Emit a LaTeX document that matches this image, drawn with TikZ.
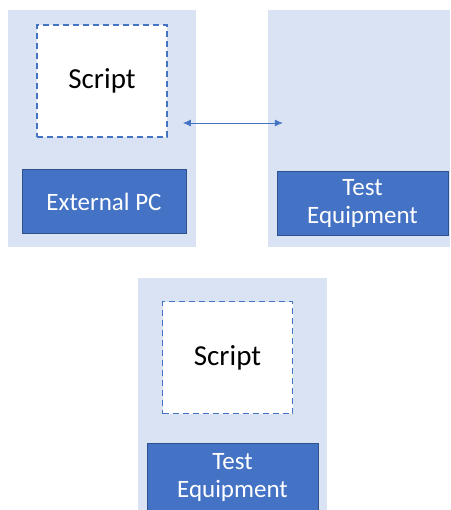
\documentclass[tikz,border=0pt]{standalone}
\usepackage{fontspec}
\setmainfont{Carlito}
\usetikzlibrary{arrows.meta,positioning,calc}
\definecolor{panelblue}{HTML}{DAE3F3}
\definecolor{boxblue}{HTML}{4472C4}
\definecolor{boxedge}{HTML}{2F528F}

\begin{document}
\begin{tikzpicture}[
  x=1pt, y=-1pt,
  every node/.style={font=\fontsize{25}{28}\selectfont, inner sep=0pt},
  panel/.style={fill=panelblue, minimum width=#1, minimum height=237pt},
  scriptbox/.style={draw=boxblue, fill=white, line width=1.8pt, dash pattern=on 6pt off 4pt, minimum width=130pt, minimum height=112pt, font=\fontsize{29}{32}\selectfont},
  device/.style={draw=boxedge, fill=boxblue, text=white, line width=1pt, minimum width=#1, minimum height=64pt, align=center}
]
\clip (0,0) rectangle (450,510);
\fill[white] (0,0) rectangle (450,510);

% top row
\node[panel=188pt] (pcpanel) at (102,128.5) {};
\node[panel=182pt] (tepanel) at (359,128.5) {};
\node[scriptbox] (pcscript) at (102,81) {Script};
\node[device=164pt] (pc) at (104,201.5) {External PC};
\node[device=171pt] (te) at (362.5,203.5) {Test\\Equipment};

% bottom
\node[panel=189pt] (onpanel) at (232.5,396.5) {};
\node[scriptbox] (onscript) at (227.5,357.5) {Script};
\node[device=171pt, minimum height=68pt] (onte) at (232.5,477) {Test\\Equipment};

\coordinate (lnkL) at ($(pcscript.east)+(15,42)$);
\coordinate (lnkR) at ($(tepanel.west|-lnkL)+(15,0)$);
\draw[{Latex[length=8pt,width=7pt]}-{Latex[length=8pt,width=7pt]}, boxblue, line width=0.8pt] (lnkL) -- (lnkR);
\end{tikzpicture}
\end{document}
